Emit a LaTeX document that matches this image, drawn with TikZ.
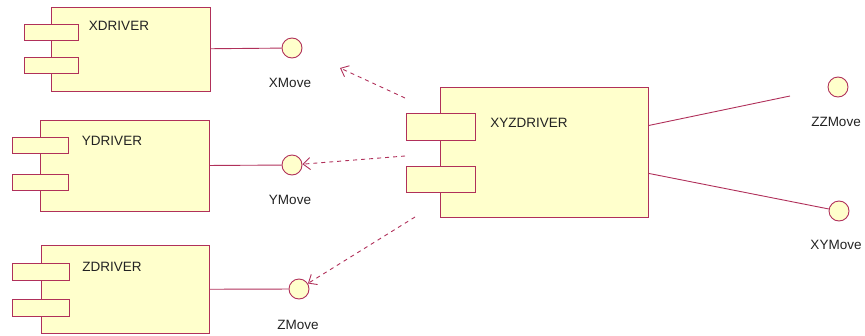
\documentclass[tikz,border=0pt]{standalone}
\usepackage{fontspec}
\setmainfont{Liberation Sans}
\usetikzlibrary{positioning, arrows.meta, calc}
\definecolor{umlred}{HTML}{B0305A}
\definecolor{umlfill}{HTML}{FFFFCC}
\definecolor{umltext}{HTML}{222222}

\begin{document}
\begin{tikzpicture}[x=1pt, y=-1pt, line width=0.9pt,
    comp/.style={draw=umlred, fill=umlfill, rectangle, anchor=north west, inner sep=0pt},
    iface/.style={draw=umlred, fill=umlfill, circle, minimum size=20pt, inner sep=0pt},
    lbl/.style={text=umltext, font=\fontsize{13.5}{16}\selectfont, inner sep=0pt},
    link/.style={draw=umlred},
    uses/.style={draw=umlred, dash pattern=on 4pt off 4pt, -{Straight Barb[length=7pt, width=12pt]}}]
    \useasboundingbox (0,0) rectangle (865,335);
    % left components
    \node[comp, minimum width=159pt, minimum height=84pt] (xdrv) at (51,7) {};
    \node[comp, minimum width=54pt, minimum height=16pt] (xtab1) at (24,24) {};
    \node[comp, minimum width=54pt, minimum height=16pt] (xtab2) at (24,57) {};
    \node[lbl] (xdrvlbl) at (119,26) {XDRIVER};
    \node[comp, minimum width=169pt, minimum height=91pt] (ydrv) at (40,120) {};
    \node[comp, minimum width=56pt, minimum height=16pt] (ytab1) at (12,137) {};
    \node[comp, minimum width=56pt, minimum height=16pt] (ytab2) at (12,174) {};
    \node[lbl] (ydrvlbl) at (112,141) {YDRIVER};
    \node[comp, minimum width=168pt, minimum height=88pt] (zdrv) at (41,245) {};
    \node[comp, minimum width=57pt, minimum height=17pt] (ztab1) at (12,263) {};
    \node[comp, minimum width=57pt, minimum height=17pt] (ztab2) at (12,299) {};
    \node[lbl] (zdrvlbl) at (112,267) {ZDRIVER};
    % main component
    \node[comp, minimum width=208pt, minimum height=130pt] (xyz) at (440,87) {};
    \node[comp, minimum width=69pt, minimum height=27pt] (xyztab1) at (406,113) {};
    \node[comp, minimum width=69pt, minimum height=26pt] (xyztab2) at (406,166) {};
    \node[lbl] (xyzlbl) at (529,123) {XYZDRIVER};
    % interfaces
    \node[iface] (xmove) at (292,48) {};
    \node[lbl] (xmovelbl) at (290,83) {XMove};
    \node[iface] (ymove) at (292,165) {};
    \node[lbl] (ymovelbl) at (290,200) {YMove};
    \node[iface] (zmove) at (299,289) {};
    \node[lbl] (zmovelbl) at (298,325) {ZMove};
    \node[iface] (zzmove) at (838,87) {};
    \node[lbl] (zzmovelbl) at (836,122) {ZZMove};
    \node[iface] (xymove) at (839,211) {};
    \node[lbl] (xymovelbl) at (836,245) {XYMove};
    % realizations
    \draw[link] (xdrv) -- (xmove);
    \draw[link] (ydrv) -- (ymove);
    \draw[link] (zdrv) -- (zmove);
    \coordinate (zzend) at (790,96);
    \draw[link] ([yshift=27pt]xyz.east) -- (zzend);
    \draw[link] ([yshift=-21pt]xyz.east) -- (xymove);
    % dependencies
    \coordinate (dep1) at (405,98);
    \coordinate (dep2) at (405,156);
    \coordinate (dep3) at (415,217);
    \coordinate (xtip) at (340,68);
    \draw[uses] (dep1) -- (xtip);
    \draw[uses] (dep2) -- (ymove);
    \draw[uses] (dep3) -- (zmove);
\end{tikzpicture}
\end{document}
